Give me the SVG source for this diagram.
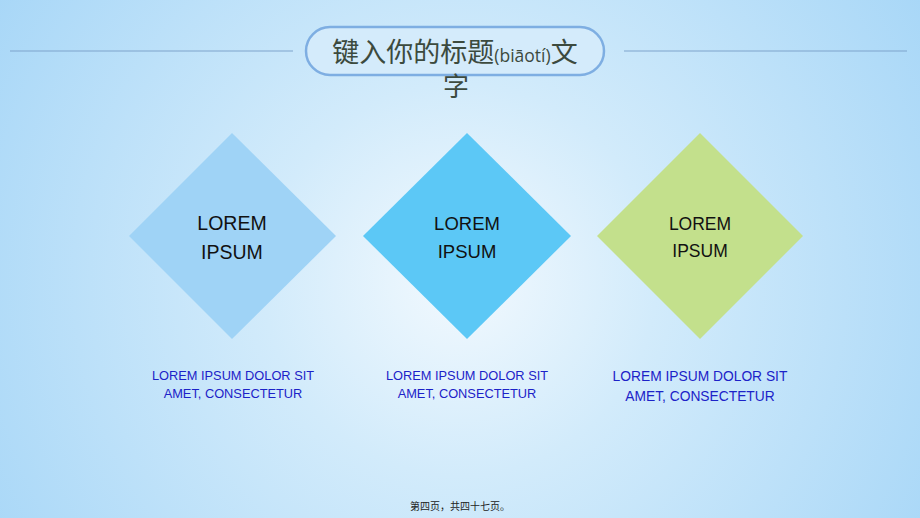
<svg xmlns="http://www.w3.org/2000/svg" width="920" height="518" viewBox="0 0 920 518">
<defs>
<radialGradient id="bg" cx="460" cy="280" r="560" gradientUnits="userSpaceOnUse">
<stop offset="0" stop-color="#f2f9fe"/>
<stop offset="0.35" stop-color="#d2ebfb"/>
<stop offset="1" stop-color="#a6d6f7"/>
</radialGradient>
<style>
.d{font-family:"Liberation Sans",Arial,sans-serif;fill:#111;text-anchor:middle}
.s{font-family:"Liberation Sans",Arial,sans-serif;fill:#1c22c8;text-anchor:middle}
.rule{stroke:#7ea4cc;stroke-width:1.2}
</style>
</defs>
<rect width="920" height="518" fill="url(#bg)"/>
<g id="header">
<line class="rule" x1="10" y1="51" x2="293" y2="51"/>
<line class="rule" x1="624" y1="51" x2="907" y2="51"/>
<rect x="306" y="27" width="298" height="48" rx="24" fill="#d4ebfb" stroke="#7eaee2" stroke-width="2.5"/>
<text x="455" y="62" text-anchor="middle" font-family="'Noto Sans CJK SC','Noto Sans',sans-serif" font-size="27" fill="#3c4a3e">键入你的标题<tspan font-size="17.5" font-family="'Open Sans','Noto Sans',sans-serif">(biāotí)</tspan>文</text>
<text x="456" y="96" text-anchor="middle" font-family="'Noto Sans CJK SC',sans-serif" font-size="26" fill="#3c4a3e">字</text>
</g>
<g id="node1">
<polygon points="232,133 336,236 232,339 129,236" fill="#9fd3f6"/>
<text class="d" x="232" y="230" font-size="19.5">LOREM</text>
<text class="d" x="232" y="259" font-size="19.5">IPSUM</text>
</g>
<g id="node2">
<polygon points="467,133 571,236 467,339 363,236" fill="#5cc8f6"/>
<text class="d" x="467" y="230" font-size="18.5">LOREM</text>
<text class="d" x="467" y="258" font-size="18.5">IPSUM</text>
</g>
<g id="node3">
<polygon points="700,133 803,236 700,339 597,236" fill="#c3e08c"/>
<text class="d" x="700" y="230" font-size="17.5">LOREM</text>
<text class="d" x="700" y="257" font-size="17.5">IPSUM</text>
</g>
<g id="captions">
<text class="s" x="233" y="380" font-size="12.8">LOREM IPSUM DOLOR SIT</text>
<text class="s" x="233" y="398" font-size="12.8">AMET, CONSECTETUR</text>
<text class="s" x="467" y="380" font-size="12.8">LOREM IPSUM DOLOR SIT</text>
<text class="s" x="467" y="398" font-size="12.8">AMET, CONSECTETUR</text>
<text class="s" x="700" y="381" font-size="13.8">LOREM IPSUM DOLOR SIT</text>
<text class="s" x="700" y="401" font-size="13.8">AMET, CONSECTETUR</text>
</g>
<g id="connectors"/>
<text x="460" y="510" text-anchor="middle" font-family="'Noto Sans CJK SC',sans-serif" font-size="10" fill="#222">第四页，共四十七页。</text>
</svg>
